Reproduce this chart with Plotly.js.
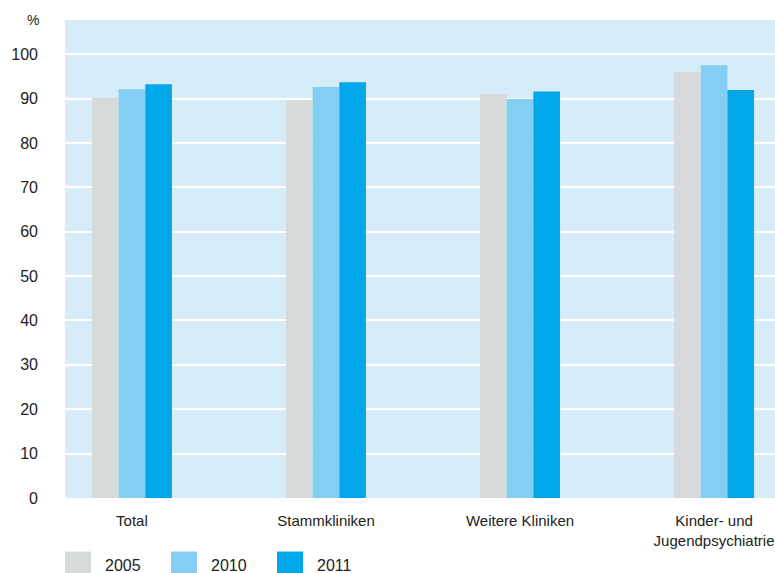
<!DOCTYPE html>
<html>
<head>
<meta charset="utf-8">
<script src="https://cdn.plot.ly/plotly-3.0.1.min.js"></script>
<style>html,body{margin:0;padding:0;background:#fff}#chart{width:775px;height:573px}</style>
</head>
<body>
<div id="chart"></div>
<script>
const categories = ["Total", "Stammkliniken", "Weitere Kliniken", "Kinder- und<br>Jugendpsychiatrie"];
const seriesNames = ["2005", "2010", "2011"];
const values2005 = [90.1, 89.6, 91.0, 96.0];
const values2010 = [92.1, 92.6, 89.9, 97.5];
const values2011 = [93.2, 93.7, 91.6, 91.9];
const yTicks = [0, 10, 20, 30, 40, 50, 60, 70, 80, 90, 100];
const colors = ["#d7dadb", "#83cff4", "#00a7e9"];
const allValues = [values2005, values2010, values2011];

const traces = seriesNames.map((name, i) => ({
  type: "bar",
  name: name,
  x: categories,
  y: allValues[i],
  marker: {color: colors[i]},
  hoverinfo: "x+y+name"
}));

const shapes = [];
const annotations = [{
  text: "%", xref: "paper", yref: "paper", x: -0.045, y: 1.0,
  xanchor: "center", yanchor: "middle", showarrow: false,
  font: {family: "Liberation Sans, Arial, sans-serif", size: 14, color: "#222"}
}];
seriesNames.forEach((name, i) => {
  const x0 = (i * 106) / 710;
  const x1 = (i * 106 + 26) / 710;
  shapes.push({type: "rect", xref: "paper", yref: "paper", x0: x0, x1: x1,
    y0: -0.166, y1: -0.112, fillcolor: colors[i], line: {width: 0}});
  annotations.push({text: name, xref: "paper", yref: "paper", x: (i * 106 + 38) / 710,
    y: -0.141, xanchor: "left", yanchor: "middle", showarrow: false,
    font: {family: "Liberation Sans, Arial, sans-serif", size: 16, color: "#222"}});
});

const layout = {
  width: 775, height: 573,
  margin: {l: 65, r: 0, t: 20, b: 75},
  paper_bgcolor: "#ffffff",
  plot_bgcolor: "#d6ecf9",
  showlegend: false,
  barmode: "group",
  bargap: 0.588,
  bargroupgap: 0,
  font: {family: "Liberation Sans, Arial, sans-serif", size: 15, color: "#222"},
  xaxis: {
    range: [-0.345, 3.314],
    showgrid: false, zeroline: false, showline: false,
    ticks: "", ticklabelstandoff: 12,
    tickfont: {size: 15, color: "#222"}
  },
  yaxis: {
    range: [0, 107.7],
    tickvals: yTicks,
    ticktext: yTicks.map(String),
    showgrid: true, gridcolor: "#ffffff", gridwidth: 2,
    zeroline: false, showline: false, ticks: "",
    ticklabelstandoff: 26,
    tickfont: {size: 16, color: "#222"}
  },
  shapes: shapes,
  annotations: annotations
};

Plotly.newPlot("chart", traces, layout, {displayModeBar: false, staticPlot: true});
</script>
</body>
</html>
